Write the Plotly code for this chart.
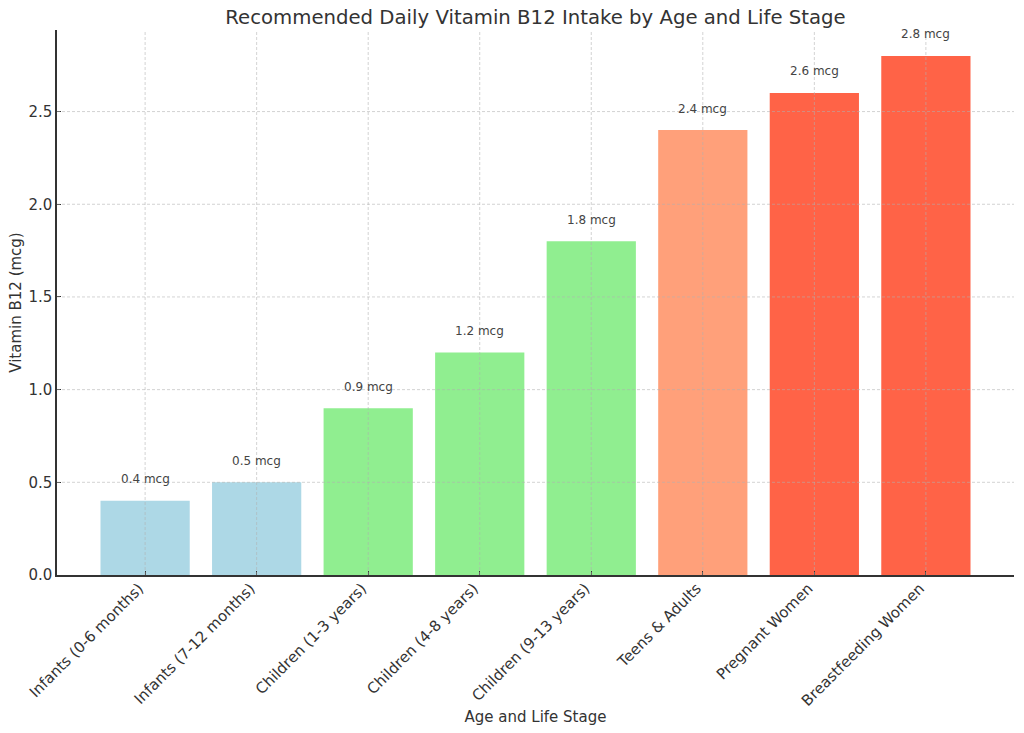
import plotly.graph_objects as go

categories = ["Infants (0-6 months)", "Infants (7-12 months)", "Children (1-3 years)",
              "Children (4-8 years)", "Children (9-13 years)", "Teens & Adults",
              "Pregnant Women", "Breastfeeding Women"]
values = [0.4, 0.5, 0.9, 1.2, 1.8, 2.4, 2.6, 2.8]
colors = ["#ADD8E6", "#ADD8E6", "#90EE90", "#90EE90", "#90EE90",
          "#FFA07A", "#FF6347", "#FF6347"]
labels = [f"{v} mcg" for v in values]
y_ticks = [0.0, 0.5, 1.0, 1.5, 2.0, 2.5]

FONT = "DejaVu Sans"
TXT = "#333333"
GRID = "rgba(176,176,176,0.7)"

fig = go.Figure()
fig.add_trace(go.Bar(x=categories, y=values, marker=dict(color=colors, line=dict(width=0)),
                     width=0.8, showlegend=False))

for c, v, t in zip(categories, values, labels):
    fig.add_annotation(x=c, y=v + 0.1, text=t, showarrow=False, yanchor="bottom", yshift=-5,
                       font=dict(family=FONT, size=12, color="#444444"), borderpad=0)

# grid drawn above bars (as in reference)
for c in categories:
    fig.add_shape(type="line", xref="x", yref="paper", x0=c, x1=c, y0=0, y1=1,
                  line=dict(color=GRID, width=0.8, dash="3px,2px"), layer="above")
for t in y_ticks[1:]:
    fig.add_shape(type="line", xref="paper", yref="y", x0=0, x1=1, y0=t, y1=t,
                  line=dict(color=GRID, width=0.8, dash="3px,2px"), layer="above")

fig.update_layout(
    width=1024, height=733,
    margin=dict(l=57, r=10, t=30, b=158, autoexpand=False),
    paper_bgcolor="white", plot_bgcolor="white",
    font=dict(family=FONT, size=15, color=TXT),
    title=dict(text="Recommended Daily Vitamin B12 Intake by Age and Life Stage",
               x=0.5, xref="paper", xanchor="center", y=0.977, yanchor="middle",
               font=dict(family=FONT, size=19.7, color=TXT)),
    bargap=0.2,
)
fig.update_xaxes(
    range=[-0.79, 7.79], tickangle=-45, showgrid=False, showline=True,
    linecolor="#333333", linewidth=1.5, ticks="inside", ticklen=4, tickcolor="#333333",
    tickfont=dict(family=FONT, size=15, color=TXT), layer="above traces",
    ticklabelshift=-6, ticklabelstandoff=-3,
    title=dict(text="Age and Life Stage", font=dict(family=FONT, size=15, color=TXT), standoff=3),
    automargin=False,
)
fig.update_yaxes(
    range=[0, 2.94], tickvals=y_ticks, tickformat=".1f", showgrid=False, zeroline=False,
    showline=True, linecolor="#333333", linewidth=1.5, ticks="inside", ticklen=4,
    tickcolor="#333333", tickfont=dict(family=FONT, size=15, color=TXT), layer="above traces",
    title=dict(text="Vitamin B12 (mcg)", font=dict(family=FONT, size=15, color=TXT), standoff=3),
    automargin=False,
)

fig.write_html("out.html")
